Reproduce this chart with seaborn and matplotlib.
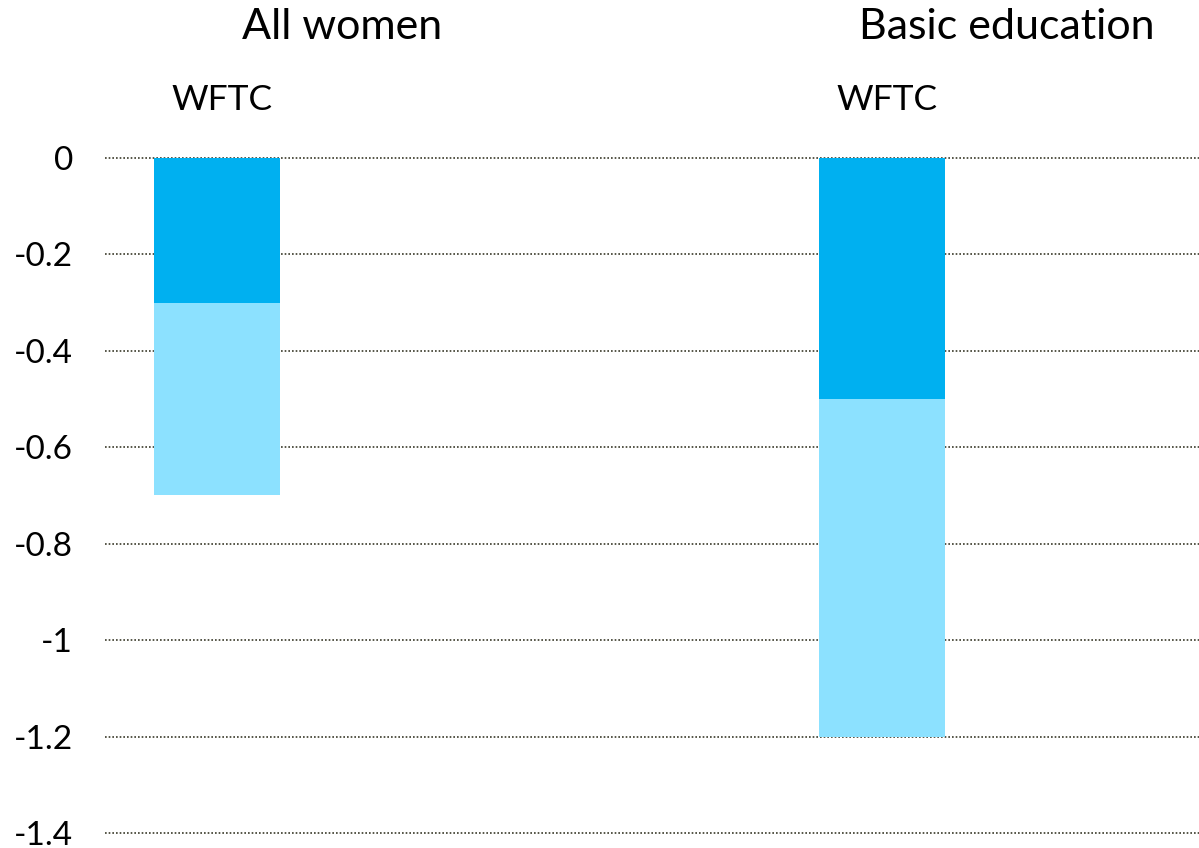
import numpy as np
import pandas as pd
import matplotlib
matplotlib.use("Agg")
import matplotlib.pyplot as plt
import matplotlib.transforms as mtransforms
import seaborn as sns

groups = ["All women", "Basic education"]
bar_labels = ["WFTC", "WFTC"]
first_part = [-0.3, -0.5]    # dark blue segment
second_part = [-0.4, -0.7]   # light blue segment
yticks = [0, -0.2, -0.4, -0.6, -0.8, -1, -1.2, -1.4]
ytick_labels = ["0", "-0.2", "-0.4", "-0.6", "-0.8", "-1", "-1.2", "-1.4"]

df = pd.DataFrame({"group": groups, "first": first_part, "second": second_part})
df["total"] = df["first"] + df["second"]

sns.set_style("white")
plt.rcParams["font.family"] = ["Lato", "DejaVu Sans"]
plt.rcParams["text.color"] = "black"
plt.rcParams["ytick.color"] = "black"

fig = plt.figure(figsize=(11.99, 8.48), dpi=100)
ax = fig.add_axes([105 / 1199, 15 / 848, 1 - 105 / 1199, 675 / 848])

sns.barplot(data=df, x="group", y="total", color="#8CE1FF", saturation=1,
            width=0.19, linewidth=0, ax=ax, zorder=3)
sns.barplot(data=df, x="group", y="first", color="#00B0F0", saturation=1,
            width=0.19, linewidth=0, ax=ax, zorder=4)

ax.set_ylim(-1.4, 0)
ax.set_xlim(-0.1684, 1.4767)
ax.set_yticks(yticks)
ax.set_yticklabels(ytick_labels)
ax.set_xticks([])
ax.set_xlabel("")
ax.set_ylabel("")
ax.tick_params(axis="y", length=0, pad=23, labelsize=24, labelcolor="black")
ax.grid(axis="y", linestyle=(0, (1, 1.2)), color="#3a3a2a", linewidth=1.2, zorder=0)
ax.set_axisbelow(True)
for s in ax.spines.values():
    s.set_visible(False)
for line in ax.get_ygridlines():
    line.set_clip_on(False)

trans = mtransforms.blended_transform_factory(ax.transData, fig.transFigure)
for i, (g, lab) in enumerate(zip(groups, bar_labels)):
    ax.text(i + 0.188, 1 - 27 / 848, g, transform=trans, ha="center", va="center",
            fontsize=31, color="black")
    ax.text(i + 0.008, 1 - 100 / 848, lab, transform=trans, ha="center", va="center",
            fontsize=25.5, color="black")

fig.savefig("out.png", dpi=100)
